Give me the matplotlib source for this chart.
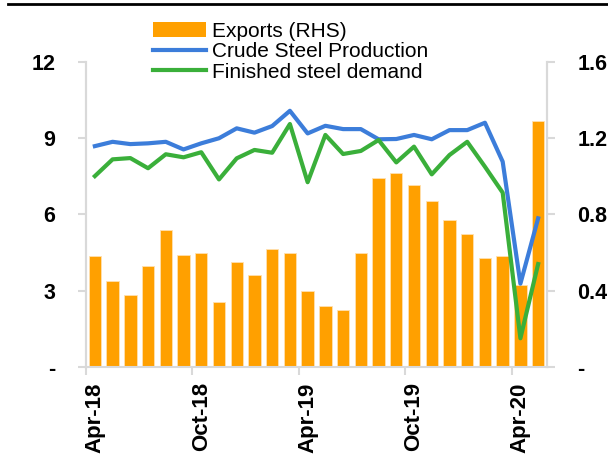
import numpy as np
import matplotlib
matplotlib.use("Agg")
import matplotlib.pyplot as plt
from matplotlib.lines import Line2D
from matplotlib.patches import Patch

plt.rcParams['font.family'] = ['Liberation Sans', 'DejaVu Sans']

# -------------------------------
# Data (Apr-18 .. May-20, monthly)
# -------------------------------
months = ['Apr-18', 'May-18', 'Jun-18', 'Jul-18', 'Aug-18', 'Sep-18',
          'Oct-18', 'Nov-18', 'Dec-18', 'Jan-19', 'Feb-19', 'Mar-19',
          'Apr-19', 'May-19', 'Jun-19', 'Jul-19', 'Aug-19', 'Sep-19',
          'Oct-19', 'Nov-19', 'Dec-19', 'Jan-20', 'Feb-20', 'Mar-20',
          'Apr-20', 'May-20']
exports = [0.58, 0.45, 0.38, 0.53, 0.72, 0.59, 0.60, 0.34, 0.55, 0.48,
           0.62, 0.60, 0.40, 0.32, 0.30, 0.60, 0.99, 1.02, 0.955, 0.87,
           0.77, 0.70, 0.57, 0.58, 0.43, 1.29]
crude = [8.69, 8.86, 8.77, 8.80, 8.86, 8.56, 8.80, 9.00, 9.39, 9.22,
         9.48, 10.08, 9.19, 9.49, 9.36, 9.36, 8.96, 8.97, 9.13, 8.96,
         9.32, 9.32, 9.61, 8.08, 3.28, 5.85]
finished = [7.51, 8.17, 8.22, 7.82, 8.37, 8.25, 8.45, 7.38, 8.21, 8.54,
            8.43, 9.56, 7.27, 9.13, 8.38, 8.50, 8.93, 8.05, 8.67, 7.58,
            8.34, 8.86, 7.88, 6.86, 1.13, 4.05]

left_ticks = [0, 3, 6, 9, 12]
left_labels = ['-', '3', '6', '9', '12']
right_ticks = [0, 0.4, 0.8, 1.2, 1.6]
right_labels = ['-', '0.4', '0.8', '1.2', '1.6']

c_bar = '#FFA000'
c_blue = '#3C7DDA'
c_green = '#3AAF3A'
c_axis = '#D9D9D9'

# -------------------------------
# Plot
# -------------------------------
fig = plt.figure(figsize=(6.08, 4.59), dpi=100)
ax = fig.add_axes([86/608, 1-367/459, (547-86)/608, (367-62)/459])
ax2 = ax.twinx()
ax.set_zorder(ax2.get_zorder() + 1)
ax.patch.set_visible(False)

x = np.arange(len(months))
ax2.bar(x, exports, width=0.7, color=c_bar, edgecolor='#FFE0B0', linewidth=0.6)
ax.plot(x, crude, color=c_blue, lw=3)
ax.plot(x, finished, color=c_green, lw=3)

ax.set_xlim(-0.5, len(months) - 0.5)
ax.set_ylim(0, 12)
ax2.set_ylim(0, 1.6)

ax.set_yticks(left_ticks)
ax.set_yticklabels(left_labels, fontsize=15.5, fontweight='bold')
ax2.set_yticks(right_ticks)
ax2.set_yticklabels(right_labels, fontsize=15.5, fontweight='bold')

# tick marks at category boundaries, labels at category centres
label_idx = list(range(0, len(months), 6))
ax.set_xticks([i - 0.5 for i in label_idx])
ax.set_xticklabels([])
ax.set_xticks(label_idx, minor=True)
ax.set_xticklabels([months[i] for i in label_idx], minor=True, rotation=90,
                   fontsize=16, fontweight='bold')
ax.tick_params(axis='x', which='major', length=6, width=1.5, color=c_axis, direction='out')
ax.tick_params(axis='x', which='minor', length=0, pad=11)
ax.tick_params(axis='y', length=6, width=1.5, color=c_axis, pad=16)
ax2.tick_params(axis='y', length=6, width=1.5, color=c_axis, pad=16)

for a in (ax, ax2):
    a.spines['top'].set_visible(False)
    for s in ('left', 'right', 'bottom'):
        a.spines[s].set_color(c_axis)
        a.spines[s].set_linewidth(1.5)
ax2.spines['bottom'].set_visible(False)

handles = [Patch(facecolor=c_bar, edgecolor='none'),
           Line2D([], [], color=c_blue, lw=3),
           Line2D([], [], color=c_green, lw=3)]
labels = ['Exports (RHS)', 'Crude Steel Production', 'Finished steel demand']
fig.legend(handles, labels, loc='upper left', bbox_to_anchor=(153/608, 1-22/459),
           frameon=False, fontsize=15, handlelength=2.55, handletextpad=0.3,
           labelspacing=0.06, borderpad=0, borderaxespad=0)

# black rule across the top
fig.add_artist(Line2D([8/608, 1], [1-4/459, 1-4/459], color='black', lw=2,
                      transform=fig.transFigure))

fig.savefig('out.png', dpi=100)
